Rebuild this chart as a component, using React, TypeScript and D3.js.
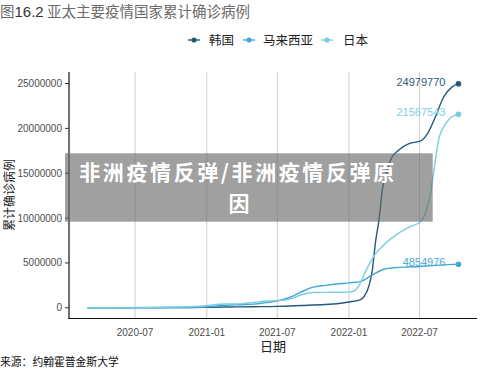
import React from 'react';
import * as d3 from 'd3';

// cumulative confirmed cases
const korea: [string, number][] = [
  ['2020-03-01', 3700], ['2020-06-01', 11500], ['2020-09-01', 20000], ['2020-12-01', 35000],
  ['2021-01-01', 61000], ['2021-03-01', 90000], ['2021-05-01', 120000], ['2021-07-01', 160000],
  ['2021-09-01', 260000], ['2021-11-01', 370000], ['2021-12-01', 450000], ['2022-01-01', 650000],
  ['2022-01-27', 850000], ['2022-02-08', 1200000], ['2022-02-21', 2400000], ['2022-03-02', 4200000],
  ['2022-03-10', 7300000], ['2022-03-19', 9800000], ['2022-03-23', 11300000], ['2022-03-27', 13000000],
  ['2022-04-05', 14600000], ['2022-04-18', 16500000], ['2022-05-09', 17600000], ['2022-06-04', 18300000],
  ['2022-07-04', 18600000], ['2022-07-20', 19300000], ['2022-08-11', 21300000], ['2022-09-01', 23500000],
  ['2022-09-22', 24600000], ['2022-10-09', 24979770],
];

const malaysia: [string, number][] = [
  ['2020-03-01', 30], ['2020-06-01', 8000], ['2020-09-01', 9500], ['2020-10-15', 18000],
  ['2020-12-01', 65000], ['2021-01-01', 115000], ['2021-02-01', 220000], ['2021-03-01', 310000],
  ['2021-04-01', 345000], ['2021-05-01', 410000], ['2021-06-01', 580000], ['2021-07-01', 770000],
  ['2021-08-01', 1150000], ['2021-09-01', 1780000], ['2021-10-01', 2300000], ['2021-11-01', 2500000],
  ['2021-12-01', 2650000], ['2022-01-01', 2780000], ['2022-02-01', 2950000], ['2022-03-01', 3650000],
  ['2022-04-01', 4300000], ['2022-05-01', 4480000], ['2022-06-01', 4550000], ['2022-07-01', 4600000],
  ['2022-08-01', 4700000], ['2022-09-01', 4780000], ['2022-10-09', 4854976],
];

const japan: [string, number][] = [
  ['2020-03-01', 300], ['2020-06-01', 17000], ['2020-09-01', 68000], ['2020-12-01', 150000],
  ['2021-01-01', 235000], ['2021-02-01', 390000], ['2021-03-01', 430000], ['2021-04-01', 470000],
  ['2021-05-01', 600000], ['2021-06-01', 750000], ['2021-07-01', 800000], ['2021-08-01', 950000],
  ['2021-09-01', 1450000], ['2021-10-01', 1700000], ['2021-11-01', 1720000], ['2021-12-01', 1730000],
  ['2022-01-01', 1750000], ['2022-01-15', 1900000], ['2022-01-27', 2500000], ['2022-02-12', 4000000],
  ['2022-03-10', 6000000], ['2022-04-05', 7200000], ['2022-05-01', 8100000], ['2022-06-04', 9000000],
  ['2022-07-04', 9600000], ['2022-07-16', 10500000], ['2022-07-29', 12700000], ['2022-08-07', 15300000],
  ['2022-08-19', 18700000], ['2022-09-06', 20500000], ['2022-09-22', 21300000], ['2022-10-09', 21567543],
];

const countries = ['韩国', '马来西亚', '日本'];
const colors = ['#23597f', '#44a7d6', '#78cde0'];
const labelColors = ['#2e5a7e', '#4ba9d6', '#80d0e0'];
const yTicks = [0, 5000000, 10000000, 15000000, 20000000, 25000000];
const xTicks = ['2020-07-01', '2021-01-01', '2021-07-01', '2022-01-01', '2022-07-01'];

const parse = d3.timeParse('%Y-%m-%d');
const fmt = d3.timeFormat('%Y-%m');
const axisFont = '"Liberation Sans", Arial, sans-serif';
const cjkFont = '"Noto Sans CJK SC", "Noto Sans", sans-serif';

export default function App() {
  const series = [korea, malaysia, japan].map(s => s.map(([d, v]) => ({ date: parse(d) as Date, value: v })));
  const all = series.flat();

  const [x0, x1] = d3.extent(all, d => d.date) as [Date, Date];
  const span = +x1 - +x0;
  const x = d3.scaleTime()
    .domain([new Date(+x0 - span * 0.05), new Date(+x1 + span * 0.05)])
    .range([69, 477]);

  const yMax = d3.max(all, d => d.value) as number;
  const y = d3.scaleLinear()
    .domain([-yMax * 0.05, yMax * 1.05])
    .range([319, 72.5]);

  const line = d3.line<{ date: Date; value: number }>()
    .x(d => x(d.date))
    .y(d => y(d.value))
    .curve(d3.curveMonotoneX);

  const legendX = [[188, 209], [243, 263], [321, 343]];

  return (
    <svg width={500} height={375} style={{ position: 'absolute', left: 0, top: 0, background: '#fff' }}>
      {/* title */}
      <text x={0} y={17} fontFamily={cjkFont} fontSize={14.5} fill="#6b6b6b">
        图<tspan fontFamily={axisFont} fill="#333" fontSize={15}>16.2</tspan> 亚太主要疫情国家累计确诊病例
      </text>

      {/* legend */}
      {countries.map((c, i) => (
        <g key={c}>
          <line x1={legendX[i][0]} x2={legendX[i][0] + 12} y1={40} y2={40} stroke={colors[i]} strokeWidth={1.4} />
          <circle cx={legendX[i][0] + 6} cy={40} r={2.6} fill={colors[i]} />
          <text x={legendX[i][1]} y={44.5} fontFamily={cjkFont} fontSize={12.5} fill="#222">{c}</text>
        </g>
      ))}

      {/* vertical grid */}
      {xTicks.map(t => (
        <line key={t} x1={x(parse(t) as Date)} x2={x(parse(t) as Date)} y1={72} y2={318.5}
          stroke="#cfcfcf" strokeWidth={1} />
      ))}

      {/* series */}
      {series.map((s, i) => (
        <path key={i} d={line(s) ?? ''} fill="none" stroke={colors[i]} strokeWidth={1.4} />
      ))}
      {series.map((s, i) => {
        const last = s[s.length - 1];
        return (
          <g key={'e' + i}>
            <circle cx={x(last.date)} cy={y(last.value)} r={2.8} fill={colors[i]} />
            <text x={x(last.date) - 13} y={y(last.value) + 2} fontFamily={axisFont} fontSize={11}
              fill={labelColors[i]} textAnchor="end">{last.value}</text>
          </g>
        );
      })}

      {/* axes */}
      <line x1={69} x2={69} y1={72} y2={319} stroke="#111" strokeWidth={1.2} />
      <line x1={68.4} x2={477} y1={318.5} y2={318.5} stroke="#111" strokeWidth={1.2} />
      {yTicks.map(t => (
        <g key={t}>
          <line x1={65} x2={69} y1={y(t)} y2={y(t)} stroke="#333" strokeWidth={1} />
          <text x={62} y={y(t) + 3.5} textAnchor="end" fontFamily={axisFont} fontSize={10} fill="#4d4d4d">{t}</text>
        </g>
      ))}
      {xTicks.map(t => (
        <text key={t} x={x(parse(t) as Date)} y={335.5} textAnchor="middle" fontFamily={axisFont}
          fontSize={10} fill="#4d4d4d">{fmt(parse(t) as Date)}</text>
      ))}
      <text x={273} y={351} textAnchor="middle" fontFamily={cjkFont} fontSize={13} fill="#222">日期</text>
      <text transform="translate(14,195) rotate(-90)" textAnchor="middle" fontFamily={cjkFont}
        fontSize={12} fill="#222">累计确诊病例</text>

      {/* source */}
      <text x={0} y={366} fontFamily={cjkFont} fontSize={10.8} fill="#111">来源：约翰霍普金斯大学</text>

      {/* overlay banner */}
      <rect x={65} y={153.3} width={367.7} height={68.4} fill="rgb(107,107,107)" fillOpacity={0.64} />
      <text x={238} y={180} textAnchor="middle" fontFamily={cjkFont} fontWeight={700} fontSize={21}
        letterSpacing={2.6} fill="#fff">
        非洲疫情反弹/非洲疫情反弹原
      </text>
      <text x={239} y={211} textAnchor="middle" fontFamily={cjkFont} fontWeight={700} fontSize={21} fill="#fff">
        因
      </text>
    </svg>
  );
}
